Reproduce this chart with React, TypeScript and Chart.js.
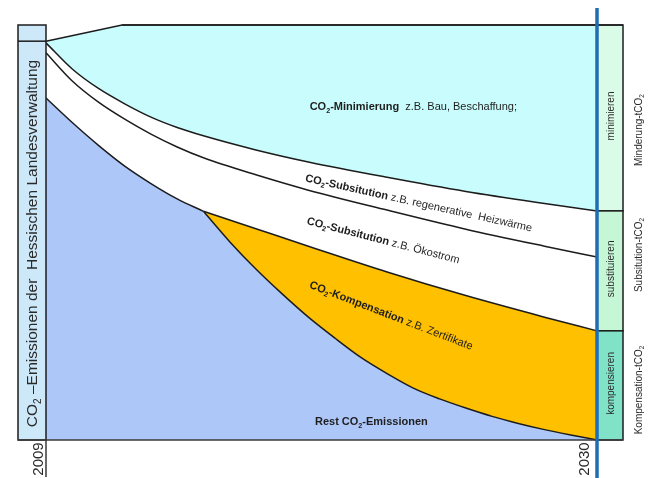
import React, { useEffect, useRef } from 'react';
import { Chart, registerables } from 'chart.js';

Chart.register(...registerables);

// ---------- data (years on x, share of 2009 emissions in % on y) ----------
const FIRST_YEAR = 2009;
const LAST_YEAR = 2030;
const tickYears = [2009, 2030];

// upper edge of the total (top of "Minimierung")
const totalYears = [2009, 2011.9, 2030];
const totalValues = [96.1, 100, 100];

// lower edge of Minimierung and lower edge of Substitution (Heizwärme)
const bandYears = [2009, 2010, 2011, 2012, 2013, 2014, 2015, 2017, 2019, 2022, 2025, 2028, 2030];
const minimierungBottom = [95.7, 89.4, 84.7, 81.0, 77.8, 75.3, 73.3, 69.9, 67.0, 63.3, 59.9, 57.0, 55.2];
const heizwaermeBottom = [93.3, 86.5, 81.4, 77.3, 73.7, 70.6, 68.0, 63.9, 60.2, 55.4, 50.8, 46.7, 44.1];

// rest emissions before compensation starts (lower edge of Ökostrom)
const earlyRestYears = [2009, 2010, 2011, 2012, 2013, 2014, 2015];
const earlyRestValues = [82.4, 76.5, 71.0, 66.0, 61.8, 58.1, 55.1];

// upper edge of Kompensation
const kompYears = [2015, 2017, 2019, 2022, 2025, 2028, 2030];
const kompTop = [55.1, 50.9, 46.7, 40.5, 34.8, 29.6, 26.3];

// rest emissions after compensation starts
const lateRestYears = [2015, 2016, 2017, 2018, 2019, 2020, 2021, 2022, 2023, 2024, 2025, 2026, 2027, 2028, 2029, 2030];
const lateRestValues = [55.1, 47.8, 41.2, 35.2, 29.6, 24.6, 19.9, 16.0, 12.5, 9.9, 7.7, 5.7, 4.0, 2.5, 1.2, 0];

// ---------- texts ----------
type Run = { t: string; b?: boolean; sub?: boolean };

const leftTitle: Run[] = [
  { t: 'CO' }, { t: '2', sub: true }, { t: ' –Emissionen der  Hessischen Landesverwaltung' },
];
const bandLabels: { runs: Run[]; year: number; value: number; angle: number }[] = [
  { runs: [{ t: 'CO', b: true }, { t: '2', b: true, sub: true }, { t: '-Minimierung', b: true }, { t: '  z.B. Bau, Beschaffung;' }], year: 2023.0, value: 80.2, angle: 0 },
  { runs: [{ t: 'CO', b: true }, { t: '2', b: true, sub: true }, { t: '-Subsitution', b: true }, { t: ' z.B. regenerative  Heizwärme' }], year: 2023.2, value: 57.0, angle: 12.5 },
  { runs: [{ t: 'CO', b: true }, { t: '2', b: true, sub: true }, { t: '-Subsitution', b: true }, { t: ' z.B. Ökostrom' }], year: 2021.85, value: 48.0, angle: 14.5 },
  { runs: [{ t: 'CO', b: true }, { t: '2', b: true, sub: true }, { t: '-Kompensation', b: true }, { t: ' z.B. Zertifikate' }], year: 2022.15, value: 29.9, angle: 21 },
  { runs: [{ t: 'Rest CO', b: true }, { t: '2', b: true, sub: true }, { t: '-Emissionen', b: true }], year: 2021.4, value: 4.3, angle: 0 },
];
const boxLabels = ['minimieren', 'substituieren', 'kompensieren'];
const sideLabels: Run[][] = [
  [{ t: 'Minderung-tCO' }, { t: '2', sub: true }],
  [{ t: 'Subsitution-tCO' }, { t: '2', sub: true }],
  [{ t: 'Kompensation-tCO' }, { t: '2', sub: true }],
];

// ---------- styles ----------
const FONT = '"Liberation Sans", Arial, Helvetica, sans-serif';
const LINE = '#1c1c1c';
const C_MIN = '#c9fcfc';
const C_SUB = '#ffffff';
const C_KOMP = '#ffc000';
const C_REST = '#adc7f8';
const C_LEFT = '#cde8f9';
const C_BOX = ['#dafbe8', '#c5f7d6', '#80e2c7'];
const C_BLUE = '#1e6db5';

function fontOf(size: number, bold?: boolean) {
  return `${bold ? 'bold ' : ''}${size}px ${FONT}`;
}

function drawRich(ctx: CanvasRenderingContext2D, runs: Run[], cx: number, cy: number, angleDeg: number, size: number, color: string) {
  ctx.save();
  ctx.translate(cx, cy);
  ctx.rotate((angleDeg * Math.PI) / 180);
  ctx.fillStyle = color;
  ctx.textBaseline = 'middle';
  ctx.textAlign = 'left';
  const widths = runs.map((r) => {
    ctx.font = fontOf(r.sub ? size * 0.65 : size, r.b);
    return ctx.measureText(r.t).width;
  });
  const total = widths.reduce((a, b) => a + b, 0);
  let x = -total / 2;
  runs.forEach((r, i) => {
    ctx.font = fontOf(r.sub ? size * 0.65 : size, r.b);
    ctx.fillText(r.t, x, r.sub ? size * 0.32 : 0);
    x += widths[i];
  });
  ctx.restore();
}

const pts = (xs: number[], ys: number[]) => xs.map((x, i) => ({ x, y: ys[i] }));

const overlay = {
  id: 'overlay',
  afterDatasetsDraw(chart: any) {
    const { ctx, chartArea: ca, scales } = chart;
    const xs = scales.x;
    const ys = scales.y;
    const left = ca.left;
    const right = ca.right;
    const top = ca.top;
    const bottom = ca.bottom;
    const boxL = left - 28;
    const boxR = right + 26;
    const seg = (x1: number, y1: number, x2: number, y2: number) => {
      ctx.beginPath();
      ctx.moveTo(x1, y1);
      ctx.lineTo(x2, y2);
      ctx.stroke();
    };
    ctx.save();
    // close the antialiasing seam where the two rest-emission fills meet
    const joinX = xs.getPixelForValue(lateRestYears[0]);
    ctx.strokeStyle = C_REST;
    ctx.lineWidth = 2;
    seg(joinX, bottom, joinX, ys.getPixelForValue(lateRestValues[0]) + 5);

    // left box
    const yDiv = ys.getPixelForValue(totalValues[0]);
    ctx.fillStyle = C_LEFT;
    ctx.fillRect(boxL, top, left - boxL, bottom - top);
    ctx.strokeStyle = LINE;
    ctx.lineWidth = 1.5;
    ctx.strokeRect(boxL, top, left - boxL, bottom - top);
    seg(boxL, yDiv, left, yDiv);

    // right boxes
    const r1 = ys.getPixelForValue(minimierungBottom[minimierungBottom.length - 1]);
    const r2 = ys.getPixelForValue(kompTop[kompTop.length - 1]);
    const bounds = [top, r1, r2, bottom];
    for (let i = 0; i < 3; i++) {
      ctx.fillStyle = C_BOX[i];
      ctx.fillRect(right, bounds[i], boxR - right, bounds[i + 1] - bounds[i]);
      ctx.strokeRect(right, bounds[i], boxR - right, bounds[i + 1] - bounds[i]);
    }
    // top line
    seg(xs.getPixelForValue(totalYears[1]), top, boxR, top);
    // bottom axis
    ctx.strokeStyle = '#3a3a3a';
    seg(boxL, bottom, boxR, bottom);
    seg(left, bottom, left, bottom + 37);

    // tick labels
    tickYears.forEach((yr, i) => {
      const px = xs.getPixelForValue(yr);
      drawRich(ctx, [{ t: String(yr) }], px - (i === 0 ? 7 : 12), bottom + 19, -90, 15, '#2a2a2a');
    });

    // left title
    drawRich(ctx, leftTitle, (boxL + left) / 2 + 1, (top + bottom) / 2 + 11, -90, 15.5, '#2a2a2a');

    // box labels
    for (let i = 0; i < 3; i++) {
      drawRich(ctx, [{ t: boxLabels[i] }], (right + boxR) / 2 + 1, (bounds[i] + bounds[i + 1]) / 2 - 2, -90, 10, '#2a2a2a');
    }
    const sideY = [130, 255, 390];
    sideLabels.forEach((runs, i) => drawRich(ctx, runs, boxR + 16, sideY[i], -90, 10, '#2a2a2a'));

    // band labels
    bandLabels.forEach((l) => {
      drawRich(ctx, l.runs, xs.getPixelForValue(l.year), ys.getPixelForValue(l.value), l.angle, 11, '#1e1e1e');
    });

    // blue 2030 line
    ctx.strokeStyle = C_BLUE;
    ctx.lineWidth = 3.5;
    seg(right, 8, right, 478);
    ctx.restore();
  },
};

export default function App() {
  const ref = useRef<HTMLCanvasElement | null>(null);
  useEffect(() => {
    if (!ref.current) return;
    const common = { pointRadius: 0, borderColor: LINE, borderWidth: 1.5, clip: false as any };
    const chart = new Chart(ref.current, {
      type: 'line',
      data: {
        datasets: [
          { ...common, label: 'Gesamt', data: pts(totalYears, totalValues), fill: 'origin', backgroundColor: C_MIN, tension: 0, order: 6 },
          { ...common, label: 'Minimierung', data: pts(bandYears, minimierungBottom), fill: 'origin', backgroundColor: C_SUB, cubicInterpolationMode: 'monotone', order: 5 },
          { ...common, label: 'Heizwärme', data: pts(bandYears, heizwaermeBottom), fill: false, cubicInterpolationMode: 'monotone', order: 4 },
          { ...common, label: 'Kompensation', data: pts(kompYears, kompTop), fill: 'origin', backgroundColor: C_KOMP, cubicInterpolationMode: 'monotone', order: 3 },
          { ...common, label: 'Rest früh', data: pts(earlyRestYears, earlyRestValues), fill: 'origin', backgroundColor: C_REST, cubicInterpolationMode: 'monotone', order: 2 },
          { ...common, label: 'Rest', data: pts(lateRestYears, lateRestValues), fill: 'origin', backgroundColor: C_REST, cubicInterpolationMode: 'monotone', order: 1 },
        ] as any,
      },
      options: {
        animation: false,
        responsive: false,
        devicePixelRatio: 1,
        layout: { padding: { left: 46, right: 53, top: 25, bottom: 38 } },
        plugins: { legend: { display: false }, tooltip: { enabled: false } },
        scales: {
          x: { type: 'linear', min: FIRST_YEAR, max: LAST_YEAR, display: false },
          y: { type: 'linear', min: 0, max: 100, display: false },
        },
      },
      plugins: [overlay],
    });
    return () => chart.destroy();
  }, []);
  return (
    <div style={{ position: 'absolute', left: 0, top: 0, width: 650, height: 478, background: '#fff' }}>
      <canvas ref={ref} width={650} height={478} />
    </div>
  );
}
